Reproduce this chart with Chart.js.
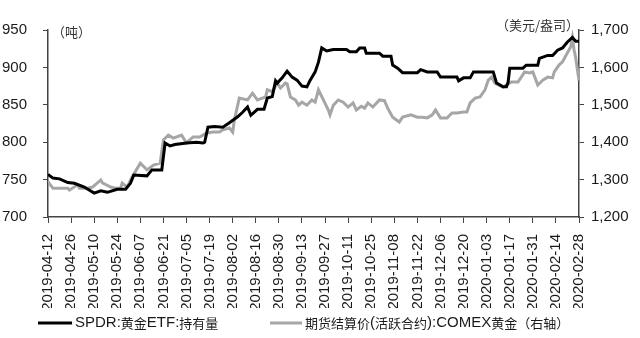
<!DOCTYPE html>
<html>
<head>
<meta charset="utf-8">
<script src="https://cdn.jsdelivr.net/npm/chart.js@4.4.1/dist/chart.umd.min.js"></script>
<style>
  html, body { margin: 0; padding: 0; background: #fff; }
  #wrap { width: 640px; height: 338px; position: relative; }
</style>
</head>
<body>
<div id="wrap"><canvas id="chart"></canvas></div>
<script>
// x tick labels, one every 14 days starting 2019-04-12
const tickLabels = [
  '2019-04-12', '2019-04-26', '2019-05-10', '2019-05-24', '2019-06-07', '2019-06-21',
  '2019-07-05', '2019-07-19', '2019-08-02', '2019-08-16', '2019-08-30', '2019-09-13',
  '2019-09-27', '2019-10-11', '2019-10-25', '2019-11-08', '2019-11-22', '2019-12-06',
  '2019-12-20', '2020-01-03', '2020-01-17', '2020-01-31', '2020-02-14', '2020-02-28'
]

// SPDR holdings (tons), x = days after 2019-04-12
const spdrDays = [0, 3, 7, 12, 16, 22, 28, 32, 36, 42, 47, 50, 52, 60, 63, 69, 71, 74, 77, 84,
  90, 94, 95, 97, 101, 106, 110, 115, 118, 121, 123, 127, 131, 133, 136, 138, 139, 142, 145, 148,
  151, 154, 157, 159, 162, 164, 166, 169, 173, 181, 183, 187, 189, 192, 193, 201, 203, 208, 209, 212,
  215, 224, 226, 230, 236, 238, 248, 249, 252, 256, 258, 270, 272, 276, 278, 279, 280, 288, 290, 297,
  298, 303, 306, 309, 312, 315, 318, 320, 322]
const spdrTons = [757, 752, 751, 746, 745, 740, 732, 735, 733, 737, 737, 745, 756, 755, 763, 763, 799, 795, 797, 799,
  800, 799, 800, 820, 821, 820, 826, 834, 840, 847, 836, 844, 844, 859, 861, 882, 879, 886, 895, 887,
  883, 875, 874, 883, 894, 907, 926, 922, 924, 924, 921, 921, 926, 926, 919, 919, 915, 915, 903, 899,
  893, 893, 897, 894, 894, 887, 887, 882, 886, 886, 894, 894, 879, 874, 874, 880, 899, 899, 903, 903,
  912, 916, 916, 923, 926, 934, 940, 935, 935]

// COMEX gold settlement (USD/oz), x = days after 2019-04-12
const goldDays = [0, 3, 12, 13, 18, 19, 24, 27, 32, 33, 38, 41, 44, 45, 48, 51, 56, 60, 64, 68,
  70, 73, 76, 81, 84, 88, 92, 96, 100, 104, 106, 110, 112, 113, 116, 121, 124, 127, 132, 133,
  136, 139, 141, 144, 145, 147, 150, 152, 154, 157, 160, 162, 164, 167, 170, 171, 173, 176, 179, 182,
  185, 187, 190, 192, 194, 197, 201, 204, 206, 209, 213, 215, 220, 224, 227, 230, 233, 235, 238, 242,
  245, 248, 252, 254, 256, 259, 262, 265, 267, 269, 271, 273, 276, 278, 281, 285, 287, 289, 292, 294,
  297, 300, 303, 306, 307, 310, 312, 315, 317, 318, 319, 320, 322]
const goldPrice = [1294, 1277, 1277, 1272, 1286, 1277, 1277, 1280, 1299, 1291, 1280, 1277, 1277, 1291, 1280, 1307, 1344, 1326, 1339, 1344,
  1406, 1419, 1411, 1419, 1398, 1414, 1414, 1424, 1427, 1427, 1433, 1438, 1427, 1459, 1518, 1513, 1531, 1513, 1521, 1540,
  1535, 1558, 1545, 1558, 1556, 1521, 1513, 1499, 1507, 1499, 1513, 1507, 1540, 1513, 1486, 1473, 1499, 1513, 1507, 1494,
  1505, 1486, 1496, 1491, 1505, 1494, 1513, 1511, 1491, 1467, 1454, 1467, 1473, 1467, 1467, 1465, 1473, 1486, 1465, 1465,
  1478, 1478, 1481, 1481, 1505, 1518, 1521, 1540, 1566, 1574, 1558, 1553, 1547, 1553, 1561, 1561, 1574, 1588, 1585, 1588,
  1553, 1566, 1574, 1572, 1588, 1607, 1615, 1639, 1655, 1679, 1647, 1625, 1565]

const FONT = "'Liberation Sans', Arial, 'Noto Sans CJK SC', sans-serif"
const CJK_FONT = "'Noto Sans CJK SC', sans-serif"
const AXIS_COLOR = '#444'
const TEXT_COLOR = '#1a1a1a'

const toPoints = (xs, ys) => xs.map((x, i) => ({ x: x, y: ys[i] }))

// draw mixed text: latin runs a bit larger, CJK runs a bit smaller (like the source)
function drawMixed(ctx, text, x, y) {
  const runs = text.match(/[\u3000-\u9fff\uff00-\uffef]+|[^\u3000-\u9fff\uff00-\uffef]+/g) || []
  runs.forEach(run => {
    const cjk = /[\u3000-\u9fff\uff00-\uffef]/.test(run)
    ctx.font = cjk ? '13px ' + CJK_FONT : '15px ' + FONT
    ctx.fillText(run, x, y)
    x += ctx.measureText(run).width
  })
}

// unit labels + bottom legend
const decorations = {
  id: 'decorations',
  afterDraw(chart) {
    const ctx = chart.ctx
    const area = chart.chartArea
    ctx.save()
    ctx.fillStyle = '#333'
    ctx.font = '13px ' + CJK_FONT
    ctx.textBaseline = 'middle'
    ctx.textAlign = 'left'
    ctx.fillText('（吨）', area.left + 4, area.top + 2)
    ctx.textAlign = 'right'
    ctx.fillText('（美元/盎司）', area.right, area.top - 5)

    // legend
    const y = 323
    const items = [
      { x: 38, w: 34, ds: chart.data.datasets[0] },
      { x: 270, w: 32, ds: chart.data.datasets[1] }
    ]
    ctx.textAlign = 'left'
    ctx.fillStyle = TEXT_COLOR
    items.forEach(item => {
      ctx.strokeStyle = item.ds.borderColor
      ctx.lineWidth = 3
      ctx.beginPath()
      ctx.moveTo(item.x, y)
      ctx.lineTo(item.x + item.w, y)
      ctx.stroke()
      drawMixed(ctx, item.ds.label, item.x + item.w + 3, y)
    })
    ctx.restore()
  }
}

const ctx = document.getElementById('chart').getContext('2d')
new Chart(ctx, {
  type: 'line',
  data: {
    datasets: [
      {
        label: 'SPDR:黄金ETF:持有量',
        data: toPoints(spdrDays, spdrTons),
        yAxisID: 'y',
        borderColor: '#000000',
        borderWidth: 3,
        pointRadius: 0,
        tension: 0
      },
      {
        label: '期货结算价(活跃合约):COMEX黄金（右轴）',
        data: toPoints(goldDays, goldPrice),
        yAxisID: 'y1',
        borderColor: '#a6a6a6',
        borderWidth: 3,
        pointRadius: 0,
        tension: 0
      }
    ]
  },
  options: {
    responsive: true,
    maintainAspectRatio: false,
    animation: false,
    layout: { padding: { top: 30, bottom: 30, left: 0, right: 0 } },
    plugins: {
      legend: { display: false },
      tooltip: { enabled: false }
    },
    scales: {
      x: {
        type: 'linear',
        min: 0,
        max: 322,
        border: { display: true, color: AXIS_COLOR, width: 1.5 },
        grid: { drawOnChartArea: false, drawTicks: true, tickLength: 6, color: AXIS_COLOR },
        ticks: {
          stepSize: 14,
          autoSkip: false,
          maxRotation: 90,
          minRotation: 90,
          padding: 11,
          color: TEXT_COLOR,
          font: { family: FONT, size: 15 },
          callback: function(value) {
            return tickLabels[Math.round(value / 14)]
          }
        },
        afterFit: function(scale) { scale.height = 91 }
      },
      y: {
        position: 'left',
        min: 700,
        max: 950,
        border: { display: true, color: AXIS_COLOR, width: 1.5 },
        grid: { drawOnChartArea: false, drawTicks: true, tickLength: 5, color: AXIS_COLOR },
        ticks: {
          stepSize: 50,
          padding: 16,
          color: TEXT_COLOR,
          font: { family: FONT, size: 15 }
        },
        afterFit: function(scale) { scale.width = 48 }
      },
      y1: {
        position: 'right',
        min: 1200,
        max: 1700,
        border: { display: true, color: AXIS_COLOR, width: 1.5 },
        grid: { drawOnChartArea: false, drawTicks: true, tickLength: 5, color: AXIS_COLOR },
        ticks: {
          stepSize: 100,
          padding: 7,
          color: TEXT_COLOR,
          font: { family: FONT, size: 15 },
          callback: function(value) {
            return value.toLocaleString('en-US')
          }
        },
        afterFit: function(scale) { scale.width = 61 }
      }
    }
  },
  plugins: [decorations]
})
</script>
</body>
</html>
